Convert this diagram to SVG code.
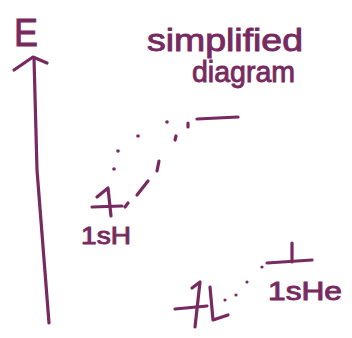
<svg xmlns="http://www.w3.org/2000/svg" width="352" height="338" viewBox="0 0 352 338">
<style>
.ink{stroke:#772a60;stroke-width:3.2;stroke-linecap:round;stroke-linejoin:round;fill:none}
.dot{fill:#772a60}
.txt{fill:#772a60;stroke:#772a60;stroke-width:0.9;font-family:"Liberation Sans","DejaVu Sans",sans-serif}
.dash{stroke:#772a60;stroke-width:3.2;stroke-linecap:round;fill:none}
</style>
<rect width="352" height="338" fill="#ffffff"/>
<g id="energy-axis">
<path class="ink" d="M34,58 L37,170 L49,323"/>
<path class="ink" d="M14,70 L33,57 L47,63"/>
<text class="txt" x="14" y="46" font-size="38" textLength="24" lengthAdjust="spacingAndGlyphs">E</text>
</g>
<g id="title">
<text class="txt" x="147" y="51" font-size="31" textLength="156" lengthAdjust="spacingAndGlyphs">simplified</text>
<text class="txt" x="192" y="82" font-size="29" textLength="103" lengthAdjust="spacingAndGlyphs">diagram</text>
</g>
<g id="upper-level">
<path class="ink" d="M197,119 L238,117"/>
</g>
<g id="level-1sH">
<path class="ink" d="M92,207 L122,206"/>
<path class="ink" d="M97,197 L108,188 L111,216"/>
<text class="txt" x="81" y="244" font-size="24" textLength="50" lengthAdjust="spacingAndGlyphs">1sH</text>
</g>
<g id="level-1sHe">
<path class="ink" d="M175,309 L207,306"/>
<path class="ink" d="M192,288 L200,282 L195,327"/>
<path class="ink" d="M210,287 L213,320 L228,315"/>
</g>
<g id="level-upper-He">
<path class="ink" d="M267,263 L312,260"/>
<path class="ink" d="M292,243 L292,262"/>
<text class="txt" x="268" y="300" font-size="25" textLength="74" lengthAdjust="spacingAndGlyphs">1sHe</text>
</g>
<g id="connectors">
<path class="dash" d="M188,123 L188,127"/>
<path class="dash" d="M176,136 L175,140"/>
<path class="dash" d="M159,161 L157,171"/>
<path class="dash" d="M148,181 L137,195"/>
<path class="dash" d="M128,203 L125,207"/>
<circle class="dot" cx="167" cy="122" r="1.8"/>
<circle class="dot" cx="138" cy="136" r="1.8"/>
<circle class="dot" cx="118" cy="151" r="1.8"/>
<circle class="dot" cx="114" cy="169" r="1.8"/>
<circle class="dot" cx="225" cy="300" r="1.6"/>
<circle class="dot" cx="236" cy="295" r="1.6"/>
<circle class="dot" cx="247" cy="282" r="1.6"/>
<circle class="dot" cx="262" cy="267" r="1.6"/>
</g>
</svg>
